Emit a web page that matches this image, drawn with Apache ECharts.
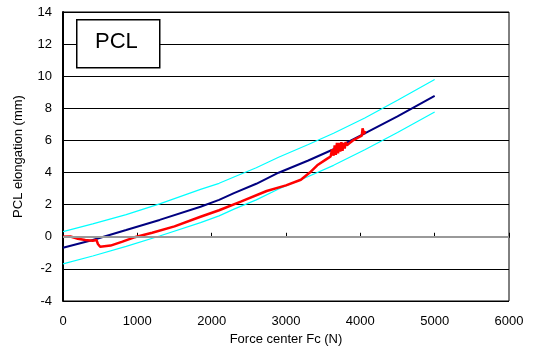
<!DOCTYPE html>
<html><head><meta charset="utf-8">
<script src="https://cdn.jsdelivr.net/npm/echarts@6/dist/echarts.min.js"></script>
<style>html,body{margin:0;padding:0;background:#fff}#c{width:534px;height:354px}</style>
</head><body><div id="c"></div>
<script>
var xTicks = [0, 1000, 2000, 3000, 4000, 5000, 6000];
var yTicks = [-4, -2, 0, 2, 4, 6, 8, 10, 12, 14];
var meanForce = [0, 400, 850, 1300, 1850, 2100, 2300, 2600, 2900, 3300, 3640, 4060, 4500, 5000];
var meanElong = [-0.68, -0.2, 0.42, 1.05, 1.87, 2.3, 2.72, 3.3, 3.99, 4.75, 5.45, 6.44, 7.5, 8.78];
var upperElong = [0.32, 0.8, 1.38, 2.05, 2.95, 3.33, 3.72, 4.3, 4.95, 5.75, 6.45, 7.4, 8.5, 9.8];
var lowerElong = [-1.69, -1.2, -0.6, 0.05, 0.88, 1.3, 1.72, 2.3, 2.98, 3.75, 4.45, 5.42, 6.5, 7.77];
var measForce = [0, 100, 200, 300, 400, 450, 470, 500, 640, 800, 950, 1200, 1500, 1850, 2100, 2400, 2740, 3000, 3200, 3320, 3420, 3550, 3600, 3620, 3640, 3655, 3670, 3685, 3700, 3715, 3730, 3745, 3760, 3775, 3790, 3805, 3820, 3860, 3900, 3980, 4020, 4030, 4050, 4063];
var measElong = [0, 0.02, -0.12, -0.2, -0.25, -0.2, -0.45, -0.62, -0.55, -0.3, -0.05, 0.25, 0.65, 1.25, 1.65, 2.2, 2.85, 3.2, 3.55, 4.0, 4.45, 4.85, 5.0, 5.45, 5.05, 5.7, 5.1, 5.85, 5.2, 5.85, 5.3, 5.9, 5.35, 5.85, 5.5, 5.9, 5.7, 5.85, 6.0, 6.2, 6.3, 6.75, 6.4, 6.6];

function pairs(a, b) { return a.map(function (v, i) { return [v, b[i]]; }); }

var chart = echarts.init(document.getElementById('c'));
var font = 'Liberation Sans, Arial, sans-serif';
chart.setOption({
  animation: false,
  backgroundColor: '#fff',
  grid: { left: 63, right: 25, top: 12, bottom: 53, show: true, borderColor: '#000', borderWidth: 1, backgroundColor: 'transparent' },
  xAxis: {
    type: 'value', min: xTicks[0], max: xTicks[xTicks.length - 1], interval: 1000,
    name: 'Force center Fc (N)', nameLocation: 'middle', nameGap: 30,
    nameTextStyle: { color: '#000', fontSize: 13, fontFamily: font },
    axisLine: { show: true, lineStyle: { color: '#000', width: 2 } },
    axisTick: { show: true, inside: true, length: 4, lineStyle: { color: '#000' } },
    axisLabel: { color: '#000', fontSize: 13, fontFamily: font, margin: 14, formatter: function (v) { return String(v); } },
    splitLine: { show: false }
  },
  yAxis: {
    type: 'value', min: yTicks[0], max: yTicks[yTicks.length - 1], interval: 2,
    name: 'PCL elongation (mm)', nameLocation: 'middle', nameGap: 38,
    nameTextStyle: { color: '#000', fontSize: 13, fontFamily: font },
    axisLine: { show: true, lineStyle: { color: '#000', width: 2 } },
    axisTick: { show: false },
    axisLabel: { color: '#000', fontSize: 13, fontFamily: font, margin: 11, formatter: function (v) { return String(v); } },
    splitLine: { show: true, lineStyle: { color: '#000', width: 1 } }
  },
  series: [
    { type: 'line', data: pairs(meanForce, upperElong), showSymbol: false, lineStyle: { color: '#00ffff', width: 1.2 }, z: 2,
      markLine: { silent: true, symbol: 'none', label: { show: false }, lineStyle: { color: '#999999', width: 2, type: 'solid' }, data: [{ yAxis: 0 }] } },
    { type: 'line', data: pairs(meanForce, lowerElong), showSymbol: false, lineStyle: { color: '#00ffff', width: 1.2 }, z: 2 },
    { type: 'line', data: pairs(meanForce, meanElong), showSymbol: false, lineStyle: { color: '#000080', width: 2 }, z: 3 },
    { type: 'line', data: pairs(measForce, measElong), showSymbol: false, lineStyle: { color: '#ff0000', width: 2.5 }, z: 4 }
  ],
  graphic: [
    { type: 'rect', left: 76, top: 19, shape: { width: 83, height: 48 }, style: { fill: '#fff', stroke: '#000', lineWidth: 1.5 }, z: 100 },
    { type: 'text', left: 95, top: 31, style: { text: 'PCL', fill: '#000', font: '22px Liberation Sans, Arial, sans-serif' }, z: 101 }
  ]
});
</script></body></html>
